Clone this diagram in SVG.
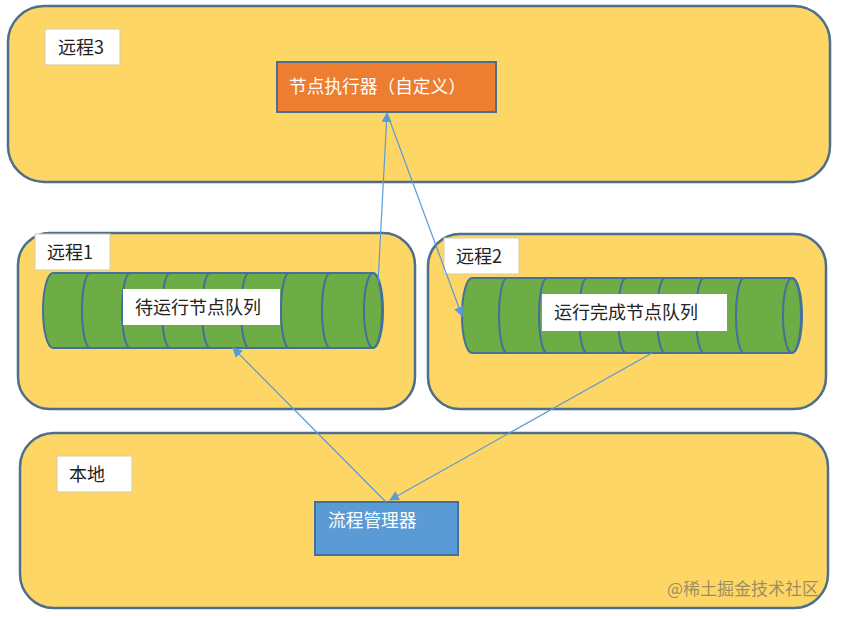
<svg xmlns="http://www.w3.org/2000/svg" width="842" height="617" viewBox="0 0 842 617">
<defs>
<style>
.box{fill:#FED666;stroke:#4B6F8C;stroke-width:2.5}
.lbl{fill:#fff;stroke:#d9c9a0;stroke-width:1}
.t{font-family:"Noto Sans CJK SC","Liberation Sans",sans-serif;font-size:18px;fill:#222}
.tw{font-family:"Noto Sans CJK SC","Liberation Sans",sans-serif;font-size:17.7px;fill:#fff}
.cyl{fill:#6EAC46;stroke:#41719C;stroke-width:2}
.str{fill:none;stroke:#41719C;stroke-width:2}
.con{stroke:#5B9BD5;stroke-width:1.2;fill:none;marker-end:url(#ah)}
</style>
<marker id="ah" viewBox="0 0 10 10" refX="9" refY="5" markerWidth="10" markerHeight="10" markerUnits="userSpaceOnUse" orient="auto">
<path d="M0,0 L10,5 L0,10 Z" fill="#5B9BD5"/>
</marker>
</defs>
<rect width="842" height="617" fill="#fff"/>

<g id="remote3">
<rect class="box" x="8" y="6" width="822" height="176" rx="36"/>
<rect class="lbl" x="45" y="29" width="75" height="36"/>
<text class="t" x="58" y="54">远程3</text>
</g>

<g id="remote1">
<rect class="box" x="18" y="233" width="397" height="176" rx="32"/>
<rect class="lbl" x="35" y="234" width="75" height="36"/>
<text class="t" x="47" y="259">远程1</text>
</g>

<g id="remote2">
<rect class="box" x="428" y="234" width="398" height="175" rx="32"/>
<rect class="lbl" x="444" y="238" width="75" height="36"/>
<text class="t" x="456" y="263">远程2</text>
</g>

<g id="local">
<rect class="box" x="20" y="433" width="808" height="175" rx="34"/>
<rect class="lbl" x="57" y="456" width="75" height="36"/>
<text class="t" x="69" y="481">本地</text>
</g>

<g id="executor">
<rect x="277" y="62" width="219" height="50" fill="#ED7D31" stroke="#4B6F8C" stroke-width="2"/>
<text class="tw" x="289" y="93">节点执行器（自定义）</text>
</g>

<g id="queue1">
<path class="cyl" d="M53,273 L373,273 A10 37.5 0 0 1 373,348 L53,348 A10 37.5 0 0 1 53,273 Z"/>
<path class="str" d="M90,273 A8 37.5 0 0 0 90,348 M130,273 A8 37.5 0 0 0 130,348 M170,273 A8 37.5 0 0 0 170,348 M210,273 A8 37.5 0 0 0 210,348 M249,273 A8 37.5 0 0 0 249,348 M289,273 A8 37.5 0 0 0 289,348 M330,273 A8 37.5 0 0 0 330,348"/>
<ellipse class="str" cx="373" cy="310.5" rx="9" ry="37.5"/>
<rect x="123" y="289" width="157" height="36" fill="#fff"/>
<text class="t" x="135" y="314">待运行节点队列</text>
</g>

<g id="queue2">
<path class="cyl" d="M472,278 L792,278 A10 37.5 0 0 1 792,353 L472,353 A10 37.5 0 0 1 472,278 Z"/>
<path class="str" d="M507,278 A8 37.5 0 0 0 507,353 M547,278 A8 37.5 0 0 0 547,353 M587,278 A8 37.5 0 0 0 587,353 M626,278 A8 37.5 0 0 0 626,353 M665,278 A8 37.5 0 0 0 665,353 M704,278 A8 37.5 0 0 0 704,353 M744,278 A8 37.5 0 0 0 744,353"/>
<ellipse class="str" cx="792" cy="315.5" rx="9" ry="37.5"/>
<rect x="542" y="294" width="185" height="37" fill="#fff"/>
<text class="t" x="554" y="319">运行完成节点队列</text>
</g>

<g id="manager">
<rect x="315" y="502" width="143" height="53" fill="#5B9BD5" stroke="#41719C" stroke-width="2"/>
<text class="tw" x="328" y="527">流程管理器</text>
</g>

<g id="connectors">
<line class="con" x1="378" y1="283" x2="387" y2="113"/>
<line class="con" x1="387" y1="113" x2="462" y2="316"/>
<line class="con" x1="386" y1="502" x2="233" y2="348"/>
<line class="con" x1="652" y1="353" x2="390" y2="500"/>
</g>

<text x="667" y="595" font-family="'Noto Sans CJK SC',sans-serif" font-size="17" fill="#8a8060" fill-opacity="0.85">@稀土掘金技术社区</text>
</svg>
